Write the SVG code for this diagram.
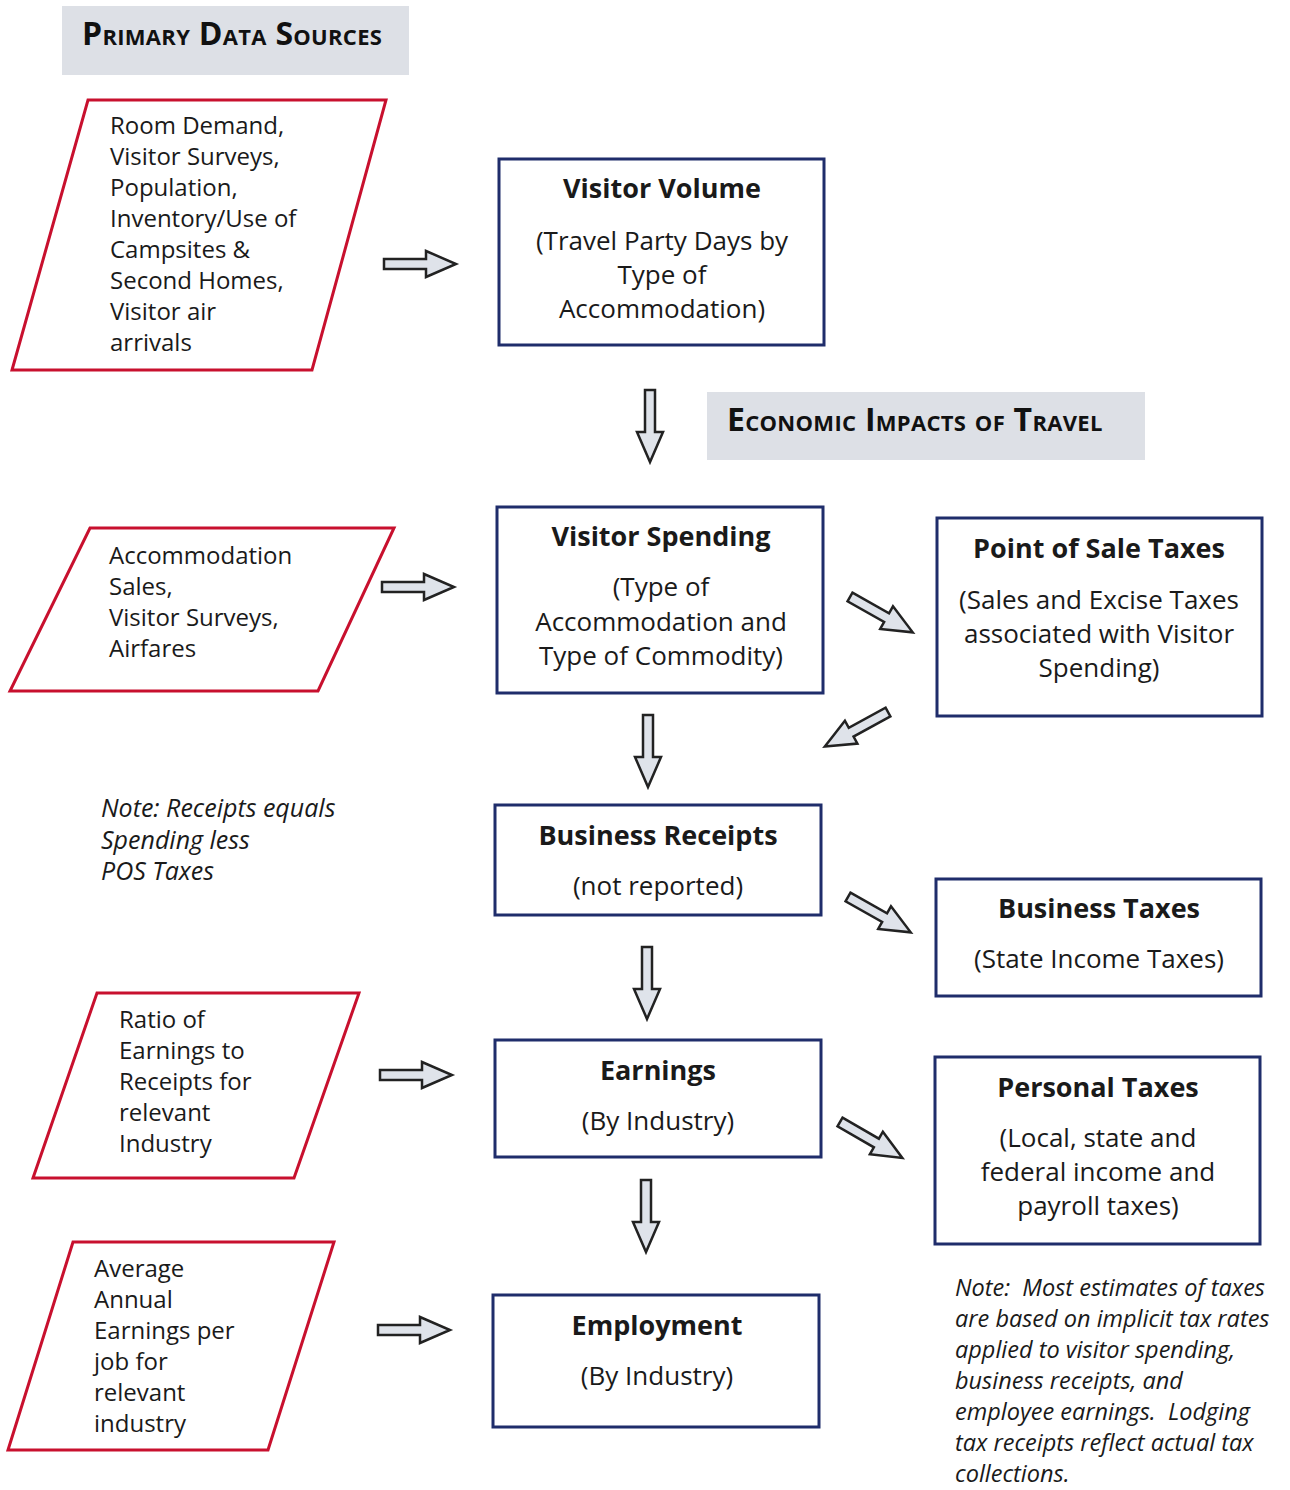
<svg xmlns="http://www.w3.org/2000/svg" width="1290" height="1490" viewBox="0 0 1290 1490">
<defs>
<style>
.hdr{fill:#dde0e6}
.hdrt{font-family:"Open Sans","Liberation Sans",sans-serif;font-weight:bold;font-size:32px;font-variant:small-caps;fill:#111;letter-spacing:0.3px}
.para{fill:#fff;stroke:#c8102e;stroke-width:3}
.box{fill:#fff;stroke:#1f2d6b;stroke-width:3}
.t{font-family:"Open Sans","Liberation Sans",sans-serif;font-size:24px;fill:#1a1a1a}
.b{font-size:26px}
.c{text-anchor:middle}
.ti{font-family:"Open Sans","Liberation Sans",sans-serif;font-size:27px;font-weight:bold;fill:#1a1a1a;text-anchor:middle}
.note{font-family:"Open Sans","Liberation Sans",sans-serif;font-size:25px;font-style:italic;fill:#1a1a1a;white-space:pre}
.note2{font-size:23.5px}
.arr{fill:#dfe3ea;stroke:#222;stroke-width:2.5;stroke-linejoin:miter}
</style>
<path id="arrow" d="M0,-5 L42,-5 L42,-13 L72,0 L42,13 L42,5 L0,5 Z"/>
</defs>
<rect width="1290" height="1490" fill="#fff"/>

<g id="hdr-primary">
<rect class="hdr" x="62" y="6" width="347" height="69"/>
<text class="hdrt" x="82" y="45">Primary Data Sources</text>
</g>
<g id="hdr-economic">
<rect class="hdr" x="707" y="392" width="438" height="68"/>
<text class="hdrt" x="727" y="431">Economic Impacts of Travel</text>
</g>

<g id="src-visitor-volume">
<polygon class="para" points="88,100 386,100 312,370 12,370"/>
<text class="t"><tspan x="110" y="134">Room Demand,</tspan><tspan x="110" y="165">Visitor Surveys,</tspan><tspan x="110" y="196">Population,</tspan><tspan x="110" y="227">Inventory/Use of</tspan><tspan x="110" y="258">Campsites &amp;</tspan><tspan x="110" y="289">Second Homes,</tspan><tspan x="110" y="320">Visitor air</tspan><tspan x="110" y="351">arrivals</tspan></text>
</g>

<g id="visitor-volume">
<rect class="box" x="499" y="159" width="325" height="186"/>
<text class="ti" x="662" y="198">Visitor Volume</text>
<text class="t b c"><tspan x="662" y="250">(Travel Party Days by</tspan><tspan x="662" y="284">Type of</tspan><tspan x="662" y="318">Accommodation)</tspan></text>
</g>

<g id="src-visitor-spending">
<polygon class="para" points="90,528 394,528 318,691 10,691"/>
<text class="t"><tspan x="109" y="564">Accommodation</tspan><tspan x="109" y="595">Sales,</tspan><tspan x="109" y="626">Visitor Surveys,</tspan><tspan x="109" y="657">Airfares</tspan></text>
</g>

<g id="visitor-spending">
<rect class="box" x="497" y="507" width="326" height="186"/>
<text class="ti" x="661" y="546">Visitor Spending</text>
<text class="t b c"><tspan x="661" y="596">(Type of</tspan><tspan x="661" y="631">Accommodation and</tspan><tspan x="661" y="665">Type of Commodity)</tspan></text>
</g>

<g id="pos-taxes">
<rect class="box" x="937" y="518" width="325" height="198"/>
<text class="ti" x="1099" y="558">Point of Sale Taxes</text>
<text class="t b c"><tspan x="1099" y="609">(Sales and Excise Taxes</tspan><tspan x="1099" y="643">associated with Visitor</tspan><tspan x="1099" y="677">Spending)</tspan></text>
</g>

<g id="note-receipts">
<text class="note"><tspan x="101" y="817">Note: Receipts equals</tspan><tspan x="101" y="849">Spending less</tspan><tspan x="101" y="880">POS Taxes</tspan></text>
</g>

<g id="business-receipts">
<rect class="box" x="495" y="805" width="326" height="110"/>
<text class="ti" x="658" y="845">Business Receipts</text>
<text class="t b c" x="658" y="895">(not reported)</text>
</g>

<g id="business-taxes">
<rect class="box" x="936" y="879" width="325" height="117"/>
<text class="ti" x="1099" y="918">Business Taxes</text>
<text class="t b c" x="1099" y="968">(State Income Taxes)</text>
</g>

<g id="src-earnings">
<polygon class="para" points="97,993 359,993 294,1178 33,1178"/>
<text class="t"><tspan x="119" y="1028">Ratio of</tspan><tspan x="119" y="1059">Earnings to</tspan><tspan x="119" y="1090">Receipts for</tspan><tspan x="119" y="1121">relevant</tspan><tspan x="119" y="1152">Industry</tspan></text>
</g>

<g id="earnings">
<rect class="box" x="495" y="1040" width="326" height="117"/>
<text class="ti" x="658" y="1080">Earnings</text>
<text class="t b c" x="658" y="1130">(By Industry)</text>
</g>

<g id="personal-taxes">
<rect class="box" x="935" y="1057" width="325" height="187"/>
<text class="ti" x="1098" y="1097">Personal Taxes</text>
<text class="t b c"><tspan x="1098" y="1147">(Local, state and</tspan><tspan x="1098" y="1181">federal income and</tspan><tspan x="1098" y="1215">payroll taxes)</tspan></text>
</g>

<g id="src-employment">
<polygon class="para" points="73,1242 334,1242 268,1450 8,1450"/>
<text class="t"><tspan x="94" y="1277">Average</tspan><tspan x="94" y="1308">Annual</tspan><tspan x="94" y="1339">Earnings per</tspan><tspan x="94" y="1370">job for</tspan><tspan x="94" y="1401">relevant</tspan><tspan x="94" y="1432">industry</tspan></text>
</g>

<g id="employment">
<rect class="box" x="493" y="1295" width="326" height="132"/>
<text class="ti" x="657" y="1335">Employment</text>
<text class="t b c" x="657" y="1385">(By Industry)</text>
</g>

<g id="note-taxes">
<text class="note note2"><tspan x="955" y="1296">Note:  Most estimates of taxes</tspan><tspan x="955" y="1327">are based on implicit tax rates</tspan><tspan x="955" y="1358">applied to visitor spending,</tspan><tspan x="955" y="1389">business receipts, and</tspan><tspan x="955" y="1420">employee earnings.  Lodging</tspan><tspan x="955" y="1451">tax receipts reflect actual tax</tspan><tspan x="955" y="1482">collections.</tspan></text>
</g>

<g id="connectors">
<use href="#arrow" class="arr" transform="translate(384,264)"/>
<use href="#arrow" class="arr" transform="translate(650,390) rotate(90)"/>
<use href="#arrow" class="arr" transform="translate(382,587)"/>
<use href="#arrow" class="arr" transform="translate(850,597) rotate(29.4)"/>
<use href="#arrow" class="arr" transform="translate(888,712) rotate(151.3)"/>
<use href="#arrow" class="arr" transform="translate(648,715) rotate(90)"/>
<use href="#arrow" class="arr" transform="translate(848,897) rotate(29.4)"/>
<use href="#arrow" class="arr" transform="translate(647,947) rotate(90)"/>
<use href="#arrow" class="arr" transform="translate(380,1075)"/>
<use href="#arrow" class="arr" transform="translate(840,1122) rotate(30)"/>
<use href="#arrow" class="arr" transform="translate(646,1180) rotate(90)"/>
<use href="#arrow" class="arr" transform="translate(378,1330)"/>
</g>
</svg>
